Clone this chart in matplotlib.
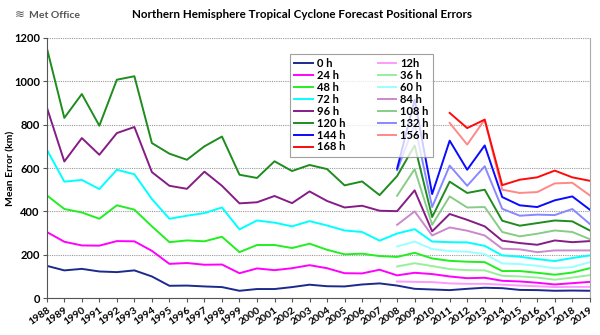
import matplotlib
matplotlib.use("Agg")
import matplotlib.pyplot as plt
import numpy as np

plt.rcParams['font.family'] = ['Lato', 'DejaVu Sans']

# Years on the x axis
years = list(range(1988, 2020))
years_2008 = list(range(2008, 2020))
years_2011 = list(range(2011, 2020))

# Full-length series 1988-2019 (km)
err_0h = [149, 128, 135, 123, 120, 128, 100, 57, 58, 54,
          51, 34, 42, 42, 51, 62, 55, 54, 63, 68, 58,
          43, 40, 37, 43, 48, 46, 38, 37, 34, 35, 34]
err_24h = [305, 260, 243, 242, 263, 262, 218, 158, 162, 154,
           155, 115, 137, 129, 138, 152, 138, 115, 114, 131, 105,
           117, 111, 100, 92, 94, 80, 77, 71, 63, 69, 75]
err_48h = [474, 411, 395, 366, 428, 408, 331, 258, 266, 262,
           283, 212, 245, 245, 231, 251, 223, 202, 205, 194, 190,
           209, 183, 172, 168, 166, 125, 125, 117, 108, 118, 138]
err_72h = [685, 537, 545, 503, 592, 571, 457, 366, 380, 392,
           418, 317, 358, 348, 331, 355, 335, 312, 305, 265, 298,
           318, 261, 258, 257, 241, 197, 191, 180, 171, 185, 197]
err_96h = [880, 630, 738, 661, 761, 789, 581, 518, 504, 583,
           518, 437, 442, 471, 438, 492, 448, 418, 426, 403, 401,
           497, 308, 388, 361, 331, 265, 254, 246, 266, 258, 263]
err_120h = [1154, 831, 941, 795, 1007, 1023, 715, 666, 638, 700,
            745, 569, 554, 631, 586, 614, 595, 520, 538, 475, 563,
            704, 374, 537, 485, 500, 357, 334, 346, 358, 354, 312]

# Series starting 2008
err_12h = [77, 75, 74, 68, 66, 66, 62, 58, 55, 51, 52, 52]
err_36h = [146, 161, 148, 134, 129, 128, 103, 100, 95, 85, 95, 106]
err_60h = [238, 261, 226, 217, 214, 203, 160, 157, 149, 138, 143, 166]
err_84h = [338, 400, 289, 326, 311, 289, 228, 225, 212, 220, 220, 220]
err_108h = [472, 595, 338, 469, 418, 420, 305, 285, 297, 312, 305, 272]
err_132h = [590, 803, 420, 611, 518, 608, 412, 380, 385, 383, 411, 342]
err_144h = [597, 915, 480, 726, 592, 704, 466, 428, 420, 451, 469, 408]

# Series starting 2011
err_156h = [808, 708, 823, 500, 485, 489, 529, 532, 474]
err_168h = [854, 784, 823, 521, 546, 557, 588, 557, 541]

fig = plt.figure(figsize=(6, 3.35), dpi=100)
ax = fig.add_axes([0.078, 0.110, 0.905, 0.777])

lw = 1.4
lines = {}
lines['0 h'], = ax.plot(years, err_0h, color='#1c2a8c', lw=lw)
lines['12h'], = ax.plot(years_2008, err_12h, color='#ff99ff', lw=lw)
lines['24 h'], = ax.plot(years, err_24h, color='#ff00ff', lw=lw)
lines['36 h'], = ax.plot(years_2008, err_36h, color='#99ee99', lw=lw)
lines['48 h'], = ax.plot(years, err_48h, color='#22ee22', lw=lw)
lines['60 h'], = ax.plot(years_2008, err_60h, color='#99ffff', lw=lw)
lines['72 h'], = ax.plot(years, err_72h, color='#00ffff', lw=lw)
lines['84 h'], = ax.plot(years_2008, err_84h, color='#cc88cc', lw=lw)
lines['96 h'], = ax.plot(years, err_96h, color='#861c86', lw=lw)
lines['108 h'], = ax.plot(years_2008, err_108h, color='#88cc88', lw=lw)
lines['120 h'], = ax.plot(years, err_120h, color='#1e8c1e', lw=lw)
lines['132 h'], = ax.plot(years_2008, err_132h, color='#8888ff', lw=lw)
lines['144 h'], = ax.plot(years_2008, err_144h, color='#0a0aff', lw=lw)
lines['156 h'], = ax.plot(years_2011, err_156h, color='#ff8888', lw=lw)
lines['168 h'], = ax.plot(years_2011, err_168h, color='#ff0a0a', lw=lw)

# column-first fill: left column 0-168 h by 24, right column 12-156 h
order = ['0 h', '24 h', '48 h', '72 h', '96 h', '120 h', '144 h', '168 h',
         '12h', '36 h', '60 h', '84 h', '108 h', '132 h', '156 h']
leg = ax.legend([lines[k] for k in order], order, ncol=2, loc='upper left',
                bbox_to_anchor=(0.437, 0.96),
                prop={'weight': 'bold', 'size': 8},
                frameon=True, fancybox=False, edgecolor='#888888',
                handlelength=1.7, handletextpad=0.35, columnspacing=2.9,
                labelspacing=0.08, borderpad=0.4)
leg.get_frame().set_linewidth(0.8)

ax.set_xlim(1988, 2019)
ax.set_ylim(0, 1200)
ax.set_xticks(years)
ax.set_xticklabels([str(y) for y in years], rotation=35, ha='right',
                   rotation_mode='anchor', fontsize=7.5, fontweight='bold')
ax.set_yticks(np.arange(0, 1201, 200))
ax.set_yticklabels([str(v) for v in range(0, 1201, 200)], fontsize=8,
                   fontweight='bold')
ax.tick_params(axis='both', length=3, width=0.8, color='#555555', pad=2)
ax.set_ylabel('Mean Error (km)', fontsize=7.5, fontweight='bold')
ax.yaxis.set_label_coords(-0.058, 0.5)

ax.grid(axis='y', color='#999999', linestyle=(0, (1, 1)), linewidth=0.8)
ax.set_axisbelow(True)
ax.spines['top'].set_visible(False)
ax.spines['right'].set_color('#aaaaaa')
ax.spines['left'].set_color('#555555')
ax.spines['bottom'].set_color('#555555')

fig.text(0.503, 0.957, 'Northern Hemisphere Tropical Cyclone Forecast Positional Errors',
         ha='center', va='center', fontsize=8.4, fontweight='bold')
fig.text(0.024, 0.955, '\u224b', ha='left', va='center',
         fontsize=8.5, color='#555555', family='DejaVu Sans')
fig.text(0.048, 0.955, 'Met Office', ha='left', va='center',
         fontsize=7.5, color='#555555', fontweight='bold')

fig.savefig('out.png', dpi=100)
